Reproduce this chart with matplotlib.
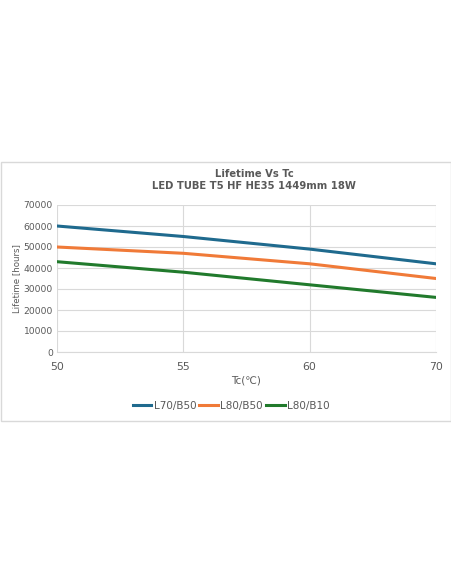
import matplotlib
matplotlib.use('Agg')
import matplotlib.pyplot as plt
from matplotlib.patches import Rectangle

# data
tc_labels = ['50', '55', '60', '70']
l70_b50 = [60000, 55000, 49000, 42000]
l80_b50 = [50000, 47000, 42000, 35000]
l80_b10 = [43000, 38000, 32000, 26000]

W, H = 452, 584
fig = plt.figure(figsize=(W / 100, H / 100), dpi=100)
fig.patch.set_facecolor('white')

# light frame around the chart area
fig.patches.append(Rectangle((1 / W, 1 - 421 / H), 450 / W, 259 / H,
                             transform=fig.transFigure, fill=False,
                             edgecolor='#d9d9d9', linewidth=1))

ax = fig.add_axes([57 / W, 1 - 352 / H, (436 - 57) / W, (352 - 205) / H])

x = range(len(tc_labels))
ax.plot(x, l70_b50, color='#1f6a8e', lw=2.2, label='L70/B50')
ax.plot(x, l80_b50, color='#f07a38', lw=2.2, label='L80/B50')
ax.plot(x, l80_b10, color='#217a2c', lw=2.2, label='L80/B10')

ax.set_xlim(0, len(tc_labels) - 1)
ax.set_ylim(0, 70000)
ax.set_yticks(range(0, 70001, 10000))
ax.set_xticks(list(x))
ax.set_xticklabels(tc_labels)
ax.grid(True, color='#d9d9d9', lw=0.8)
ax.set_axisbelow(True)
for s in ax.spines.values():
    s.set_visible(False)
ax.spines['bottom'].set_visible(True)
ax.spines['bottom'].set_color('#d9d9d9')
ax.tick_params(length=0, colors='#595959')
ax.tick_params(axis='y', labelsize=6.6, pad=3)
ax.tick_params(axis='x', labelsize=7.8, pad=7)

ax.set_xlabel('Tc(℃)', fontsize=7.5, color='#595959', labelpad=3)
ax.set_ylabel('Lifetime [hours]', fontsize=6.2, color='#595959', labelpad=2)

fig.text(0.5 + 28 / W, 1 - 174 / H, 'Lifetime Vs Tc', ha='center', va='center',
         fontsize=7.2, fontweight='bold', color='#595959')
fig.text(0.5 + 28 / W, 1 - 186 / H, 'LED TUBE T5 HF HE35 1449mm 18W', ha='center',
         va='center', fontsize=7.2, fontweight='bold', color='#595959')

fig.legend(loc='center', bbox_to_anchor=(231 / W, 1 - 406 / H), ncol=3,
           frameon=False, fontsize=7.5, handlelength=1.8, handletextpad=0.2,
           columnspacing=0.3, labelcolor='#595959')

fig.savefig('out.png', dpi=100)
